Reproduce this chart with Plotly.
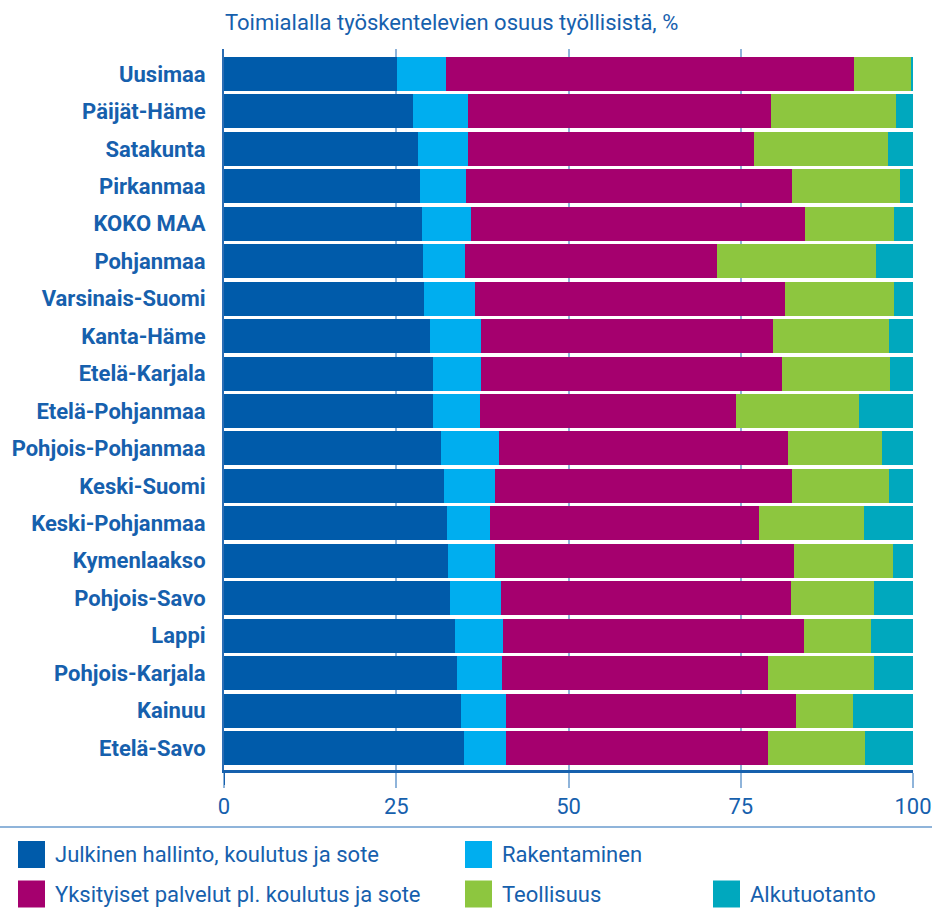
import plotly.graph_objects as go

# ---------------- data ----------------
regions = ["Uusimaa", "Päijät-Häme", "Satakunta", "Pirkanmaa", "KOKO MAA", "Pohjanmaa",
           "Varsinais-Suomi", "Kanta-Häme", "Etelä-Karjala", "Etelä-Pohjanmaa",
           "Pohjois-Pohjanmaa", "Keski-Suomi", "Keski-Pohjanmaa", "Kymenlaakso",
           "Pohjois-Savo", "Lappi", "Pohjois-Karjala", "Kainuu", "Etelä-Savo"]

julkinen = [25.1, 27.4, 28.2, 28.5, 28.7, 28.9, 29.0, 29.9, 30.3, 30.3,
            31.5, 31.9, 32.3, 32.5, 32.8, 33.5, 33.8, 34.4, 34.8]
rakentaminen = [7.1, 8.0, 7.2, 6.6, 7.1, 6.1, 7.4, 7.4, 7.0, 6.9,
                8.4, 7.4, 6.3, 6.8, 7.4, 7.0, 6.6, 6.6, 6.1]
yksityiset = [59.3, 44.0, 41.5, 47.4, 48.5, 36.5, 45.0, 42.4, 43.7, 37.1,
              41.9, 43.2, 39.0, 43.4, 42.1, 43.7, 38.5, 42.0, 38.0]
teollisuus = [8.2, 18.1, 19.4, 15.6, 12.9, 23.2, 15.8, 16.8, 15.6, 17.8,
              13.7, 14.0, 15.3, 14.4, 12.0, 9.7, 15.4, 8.3, 14.1]
alkutuotanto = [0.3, 2.5, 3.7, 1.9, 2.8, 5.3, 2.8, 3.5, 3.4, 7.9,
                4.5, 3.5, 7.1, 2.9, 5.7, 6.1, 5.7, 8.7, 7.0]

series_names = ["Julkinen hallinto, koulutus ja sote", "Rakentaminen",
                "Yksityiset palvelut pl. koulutus ja sote", "Teollisuus", "Alkutuotanto"]
series_values = [julkinen, rakentaminen, yksityiset, teollisuus, alkutuotanto]
series_colors = ["#005BAA", "#00AEEF", "#A5006E", "#8DC63F", "#00A8BE"]

x_ticks = [0, 25, 50, 75, 100]
title_text = "Toimialalla työskentelevien osuus työllisistä, %"

# ---------------- style ----------------
W, H = 932, 908
PL, PR, PT, PB = 224, 913, 49, 770
TEXT = "#1660AD"
GRID = "#8FB4DA"
FONT = "Roboto"
FS = 22

def px_x(p):
    return (p - PL) / (PR - PL)

def px_y(p):
    return (PB - p) / (PB - PT)

fig = go.Figure()
for name, vals, col in zip(series_names, series_values, series_colors):
    fig.add_trace(go.Bar(
        y=regions, x=vals, name=name, orientation="h",
        marker=dict(color=col, line=dict(width=0)),
        showlegend=False, hovertemplate="%{y}: %{x}<extra>" + name + "</extra>"))

# manual legend (layout positions: swatch left x, row center y)
legend_pos = [(18, 854.5), (465, 854.5), (18, 894), (465, 894), (713, 894)]
shapes = []
annotations = []
SW = 27
for (lx, ly), name, col in zip(legend_pos, series_names, series_colors):
    shapes.append(dict(type="rect", xref="paper", yref="paper",
                       x0=px_x(lx), x1=px_x(lx + SW),
                       y0=px_y(ly - SW / 2), y1=px_y(ly + SW / 2),
                       fillcolor=col, line=dict(width=0), layer="above"))
    annotations.append(dict(xref="paper", yref="paper", x=px_x(lx + SW + 8), y=px_y(ly),
                            text=name, showarrow=False, xanchor="left", yanchor="middle",
                            font=dict(family=FONT, size=FS, color=TEXT)))

# separator line above legend
shapes.append(dict(type="line", xref="paper", yref="paper",
                   x0=px_x(0), x1=px_x(W), y0=px_y(827), y1=px_y(827),
                   line=dict(color=GRID, width=2)))
# zero tick extension (dark)
shapes.append(dict(type="line", xref="x", yref="paper", x0=0, x1=0,
                   y0=px_y(770), y1=px_y(785), line=dict(color=TEXT, width=2)))

n = len(regions)
pitch = (748 - 74) / (n - 1)
y_top = (PT - 74) / pitch
y_bot = (PB - 74) / pitch

fig.update_layout(
    width=W, height=H, autosize=False,
    margin=dict(l=PL, r=W - PR, t=PT, b=H - PB, pad=0, autoexpand=False),
    paper_bgcolor="white", plot_bgcolor="white",
    barmode="stack", bargap=0.09,
    font=dict(family=FONT, color=TEXT),
    title=dict(text=title_text, x=(PL + 1) / W, xanchor="left", xref="container",
               y=1 - 22 / H, yanchor="middle", yref="container", automargin=False,
               font=dict(family=FONT, size=FS, color=TEXT)),
    xaxis=dict(range=[0, 100], tickvals=x_ticks, ticktext=[str(t) for t in x_ticks],
               showgrid=True, gridcolor=GRID, gridwidth=1.5, automargin=False,
               ticks="outside", ticklen=15, tickwidth=1.5, tickcolor=GRID,
               showline=True, linecolor=TEXT, linewidth=2.5,
               zeroline=False, tickfont=dict(family=FONT, size=FS, color=TEXT)),
    yaxis=dict(categoryorder="array", categoryarray=regions, automargin=False,
               range=[y_bot, y_top], showgrid=False, zeroline=False,
               showline=True, linecolor="#2C6DB3", linewidth=2,
               ticks="", ticklabelstandoff=12,
               tickfont=dict(family=FONT, size=FS, color=TEXT, weight="bold")),
    shapes=shapes, annotations=annotations,
)

fig.write_html("out.html", config={"displayModeBar": False},
               post_script="document.body.style.margin='0';document.body.style.overflow='hidden';")
